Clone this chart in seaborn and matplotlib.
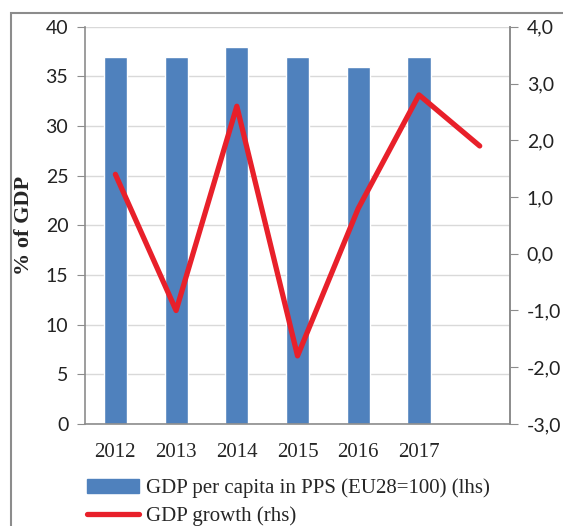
import numpy as np
import pandas as pd
import matplotlib
matplotlib.use("Agg")
import matplotlib.pyplot as plt
from matplotlib.patches import Rectangle
from matplotlib.lines import Line2D
from matplotlib.ticker import FuncFormatter
import seaborn as sns

# data
years = ["2012", "2013", "2014", "2015", "2016", "2017", "2018"]
bar_years = ["2012", "2013", "2014", "2015", "2016", "2017"]
gdp_pps = [37, 37, 38, 37, 36, 37]
gdp_growth = [1.4, -1.0, 2.6, -1.8, 0.8, 2.8, 1.9]

bar_color = "#4F81BD"
line_color = "#E8202A"
axis_gray = "#8C8C8C"
serif = ["Liberation Serif", "DejaVu Serif"]
sans = ["Lato", "DejaVu Sans"]

sns.set_style("white")
fig = plt.figure(figsize=(5.63, 5.26), dpi=100)
ax = fig.add_axes([0.151, 0.194, 0.755, 0.755])

df = pd.DataFrame({"year": bar_years, "pps": gdp_pps})
sns.barplot(data=df, x="year", y="pps", order=years, color=bar_color,
            width=0.38, saturation=1, ax=ax, zorder=2)
ax.set_ylim(0, 40)
ax.set_xlim(-0.5, len(years) - 0.5)
ax.set_yticks(np.arange(0, 41, 5))
ax.grid(axis="y", color="#D9D9D9", lw=1, zorder=0)
ax.set_axisbelow(True)

# x ticks at slot boundaries, labels at slot centres
ax.set_xticks(np.arange(-0.5, len(years), 1.0))
ax.set_xticklabels([])
ax.set_xticks(np.arange(len(bar_years)), minor=True)
ax.set_xticklabels(bar_years, minor=True, fontfamily=serif, fontsize=15)
ax.tick_params(axis="x", which="major", length=7, color=axis_gray, direction="out")
ax.tick_params(axis="x", which="minor", length=0, pad=14)
ax.tick_params(axis="y", length=6, color=axis_gray, direction="out", pad=6)
for lab in ax.get_yticklabels():
    lab.set_fontfamily(sans)
    lab.set_fontsize(14)
    lab.set_color("#222222")
ax.set_xlabel("")
ax.set_ylabel("% of GDP", fontfamily=serif, fontweight="bold", fontsize=16)
ax.yaxis.set_label_coords(-0.12, 0.5)

ax.spines["top"].set_visible(False)
for s in ["left", "bottom", "right"]:
    ax.spines[s].set_color(axis_gray)
    ax.spines[s].set_linewidth(1.2)

# growth on right axis
ax2 = ax.twinx()
sns.lineplot(x=np.arange(len(years)), y=gdp_growth, color=line_color, lw=3.8,
             ax=ax2, zorder=3)
ax2.set_ylim(-3, 4)
ax2.set_yticks(np.arange(-3, 4.1, 1))
ax2.yaxis.set_major_formatter(FuncFormatter(lambda v, p: f"{v:.1f}".replace(".", ",")))
ax2.tick_params(axis="y", length=6, color=axis_gray, direction="out", pad=6)
for lab in ax2.get_yticklabels():
    lab.set_fontfamily(sans)
    lab.set_fontsize(14)
    lab.set_color("#222222")
for s in ["top", "left", "bottom"]:
    ax2.spines[s].set_visible(False)
ax2.spines["right"].set_color(axis_gray)
ax2.spines["right"].set_linewidth(1.2)
ax2.grid(False)

# legend
handles = [Rectangle((0, 0), 1, 1, color=bar_color),
           Line2D([0], [0], color=line_color, lw=3.8)]
fig.legend(handles, ["GDP per capita in PPS (EU28=100) (lhs)", "GDP growth (rhs)"],
           loc="upper left", bbox_to_anchor=(0.155, 0.09), frameon=False,
           prop={"family": serif, "size": 15}, handlelength=2.5, handleheight=0.62,
           handletextpad=0.3, labelspacing=0.4, borderaxespad=0, borderpad=0)

# outer chart border
fig.add_artist(Rectangle((11 / 563, -0.05), 1.0, 1 - 13 / 526 + 0.05,
                         transform=fig.transFigure, fill=False,
                         edgecolor="#8C8C8C", lw=1.5))

fig.savefig("out.png", dpi=100)
